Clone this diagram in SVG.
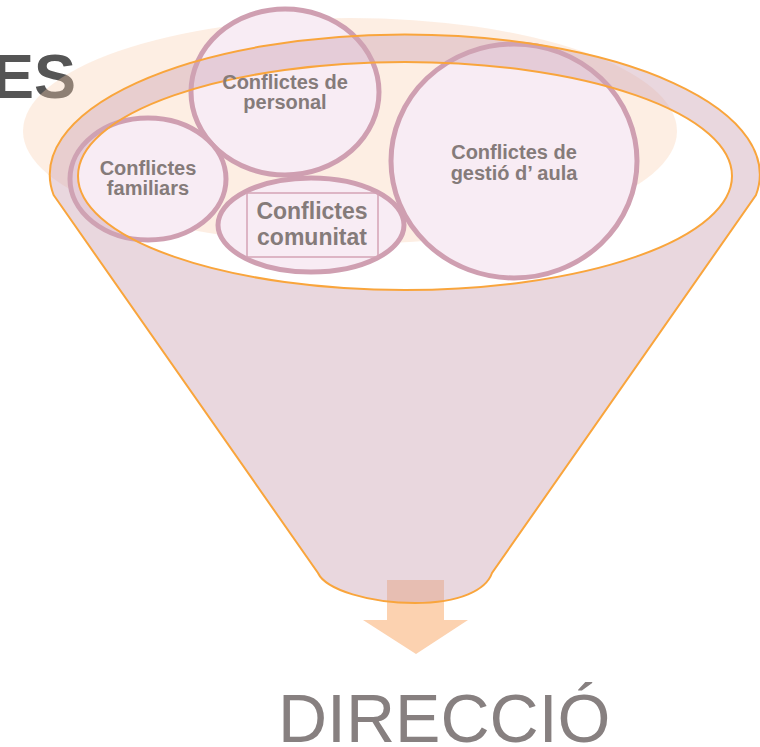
<svg xmlns="http://www.w3.org/2000/svg" width="760" height="747" viewBox="0 0 760 747">
<style>
.circ{fill:#f8ecf4;stroke:#cf9fb1;stroke-width:5}
.lbl{font-family:"Liberation Sans",Arial,sans-serif;font-weight:bold;fill:#857b7a;text-anchor:middle}
</style>
<rect width="760" height="747" fill="#ffffff"/>
<g id="background">
<text x="76" y="98" font-family="'Liberation Sans',Arial,sans-serif" font-weight="bold" font-size="63" fill="#555555" text-anchor="end">ES</text>
<ellipse cx="350" cy="131" rx="327" ry="113" fill="#f9ceae" fill-opacity="0.35"/>
</g>
<g id="arrow">
<polygon points="387,580 444,580 444,620 468,620 416,654 363,620 387,620" fill="#fcd2b0"/>
</g>
<g id="node-personal"><ellipse class="circ" cx="285" cy="92" rx="94" ry="83"/></g>
<g id="node-familiars"><ellipse class="circ" cx="148" cy="179" rx="78" ry="61"/></g>
<g id="node-comunitat"><ellipse class="circ" cx="311" cy="225" rx="93" ry="47"/>
<rect x="247" y="193" width="131" height="64" fill="none" stroke="#d4a3b5" stroke-width="1.5"/></g>
<g id="node-gestio"><ellipse class="circ" cx="514" cy="161" rx="123" ry="117"/></g>
<g id="funnel">
<path d="M53.6,195 L318,573 C326,590 370,603 415,603 C460,603 486,590 492,573 L756,195 A355,140 0 1 0 53.6,195 Z M78,176 A327,114 0 1 0 732,176 A327,114 0 1 0 78,176 Z" fill="#cfa6b6" fill-opacity="0.45" fill-rule="evenodd" stroke="#f9a53c" stroke-width="2"/>
</g>
<g id="labels">
<text class="lbl" font-size="20"><tspan x="285" y="89">Conflictes de</tspan><tspan x="285" y="109">personal</tspan></text>
<text class="lbl" font-size="20"><tspan x="148" y="175">Conflictes</tspan><tspan x="148" y="195">familiars</tspan></text>
<text class="lbl" font-size="23"><tspan x="312" y="219">Conflictes</tspan><tspan x="312" y="245">comunitat</tspan></text>
<text class="lbl" font-size="20"><tspan x="514" y="159">Conflictes de</tspan><tspan x="514" y="180">gestió d’ aula</tspan></text>
</g>
<text x="278" y="742" font-family="'Liberation Sans',Arial,sans-serif" font-size="68" fill="#878080">DIRECCIÓ</text>
</svg>
